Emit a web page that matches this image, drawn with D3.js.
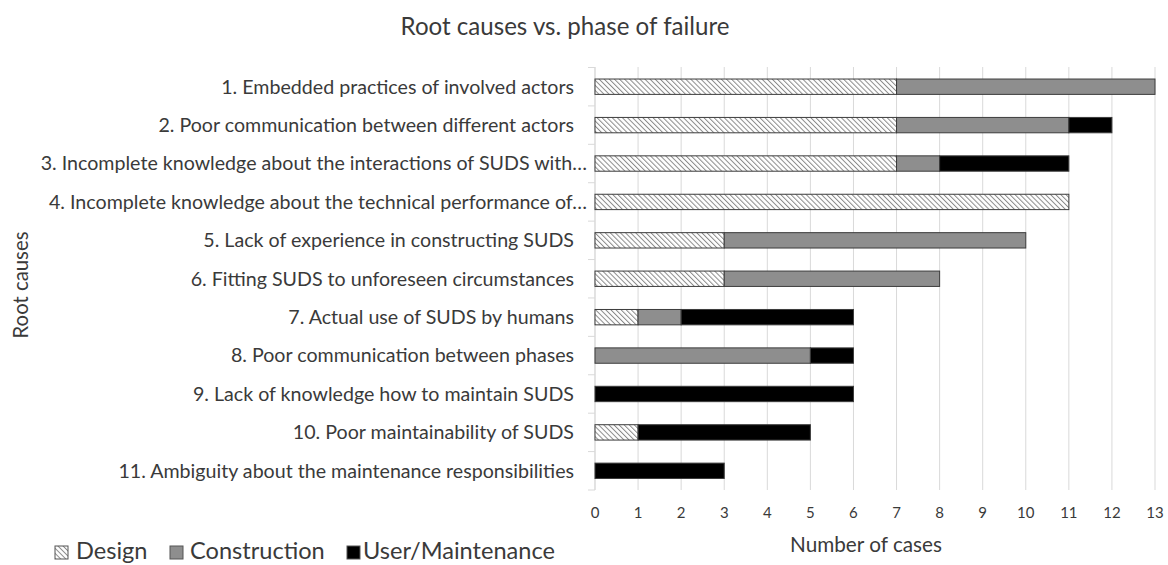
<!DOCTYPE html>
<html><head><meta charset="utf-8">
<script src="https://cdn.jsdelivr.net/npm/d3@7"></script>
<style>body{margin:0;background:#fff}svg{display:block}text{font-family:Lato,"Open Sans",sans-serif;fill:#3a3a3a}</style>
</head><body>
<script>
const categories = [
 "1. Embedded practices of involved actors",
 "2. Poor communication between different actors",
 "3. Incomplete knowledge about the interactions of SUDS with\u2026",
 "4. Incomplete knowledge about the technical performance of\u2026",
 "5. Lack of experience in constructing SUDS",
 "6. Fitting SUDS to unforeseen circumstances",
 "7. Actual use of SUDS by humans",
 "8. Poor communication between phases",
 "9. Lack of knowledge how to maintain SUDS",
 "10. Poor maintainability of SUDS",
 "11. Ambiguity about the maintenance responsibilities"];
const design       = [7,7,7,11,3,3,1,0,0,1,0];
const construction = [6,4,1,0,7,5,1,5,0,0,0];
const maintenance  = [0,1,3,0,0,0,4,1,6,4,3];
const seriesNames = ["Design","Construction","User/Maintenance"];
const xTicks = d3.range(0,14);

const W=1168,H=565;
const svg=d3.select("body").append("svg").attr("width",W).attr("height",H);
const defs=svg.append("defs");
const pat=defs.append("pattern").attr("id","hatch").attr("patternUnits","userSpaceOnUse")
 .attr("width",3.6).attr("height",3.6).attr("patternTransform","rotate(-45)");
pat.append("rect").attr("width",3.6).attr("height",3.6).attr("fill","#fff");
pat.append("line").attr("x1",0.5).attr("y1",0).attr("x2",0.5).attr("y2",3.6).attr("stroke","#8a8a8a").attr("stroke-width",1);

// scale font-size so a text element spans a given width
function fit(sel, width){
  const fs=+sel.attr("font-size"); const w=sel.node().getComputedTextLength();
  sel.attr("font-size", fs*width/w); return fs*width/w;
}

const fills=["url(#hatch)","#8e8e8e","#000"];
const x=d3.scaleLinear().domain([0,13]).range([595,1155]);
const y=d3.scaleBand().domain(categories).range([67.5,490]).paddingInner(0.6).paddingOuter(0.3);

// grid
svg.append("g").selectAll("line").data(xTicks).join("line")
 .attr("x1",d=>x(d)).attr("x2",d=>x(d)).attr("y1",67).attr("y2",490)
 .attr("stroke","#d9d9d9").attr("stroke-width",1);

// y axis tick marks
const edges=categories.map(c=>y(c)-y.step()*y.paddingInner()/2).concat([490]);
svg.append("g").selectAll("line").data(edges).join("line")
 .attr("x1",588).attr("x2",595).attr("y1",d=>d).attr("y2",d=>d).attr("stroke","#d9d9d9");
svg.append("line").attr("x1",595).attr("x2",595).attr("y1",67).attr("y2",490).attr("stroke","#d9d9d9");

const stack=[];
categories.forEach((c,i)=>{let acc=0;[design[i],construction[i],maintenance[i]].forEach((v,k)=>{if(v>0)stack.push({c,k,x0:acc,x1:acc+v});acc+=v;});});
svg.append("g").selectAll("rect").data(stack).join("rect")
 .attr("x",d=>x(d.x0)).attr("width",d=>x(d.x1)-x(d.x0))
 .attr("y",d=>y(d.c)).attr("height",y.bandwidth())
 .attr("fill",d=>fills[d.k]).attr("stroke","#3c3c3c").attr("stroke-width",1);

// category labels (truncated ones run slightly further right, as in the source)
const labs=svg.append("g").selectAll("text").data(categories).join("text")
 .attr("x",d=>d.endsWith("\u2026")?587:574).attr("y",d=>y(d)+y.bandwidth()/2).attr("dy","0.35em")
 .attr("text-anchor","end").attr("font-size",18).text(d=>d);
const lfs=fit(d3.select(labs.nodes()[0]),353);
labs.attr("font-size",lfs);

// x tick labels
svg.append("g").selectAll("text").data(xTicks).join("text")
 .attr("x",d=>x(d)).attr("y",513).attr("dy","0.35em").attr("text-anchor","middle")
 .attr("font-size",15).text(d=>d);

const xt=svg.append("text").attr("x",866).attr("y",545).attr("dy","0.35em").attr("text-anchor","middle")
 .attr("font-size",20).text("Number of cases");
fit(xt,152);
const yt=svg.append("text").attr("transform","translate(21,285) rotate(-90)").attr("dy","0.35em")
 .attr("text-anchor","middle").attr("font-size",20).text("Root causes");
fit(yt,107);
const tt=svg.append("text").attr("x",565).attr("y",27).attr("dy","0.35em").attr("text-anchor","middle")
 .attr("font-size",22).text("Root causes vs. phase of failure");
fit(tt,329);

// legend
const leg=svg.append("g");
const legBox=[55,170,347], legTxt=[76,190,363];
let lt=[];
seriesNames.forEach((n,k)=>{
 leg.append("rect").attr("x",legBox[k]).attr("y",546).attr("width",13).attr("height",13)
  .attr("fill",fills[k]).attr("stroke","#555").attr("stroke-width",1);
 lt.push(leg.append("text").attr("x",legTxt[k]).attr("y",559).attr("font-size",20).text(n));
});
const legFs=fit(lt[2],192);
lt.forEach(t=>t.attr("font-size",legFs));
</script>
</body></html>
